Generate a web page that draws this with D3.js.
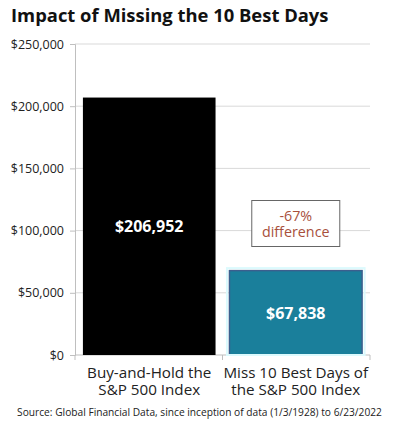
<!DOCTYPE html>
<html>
<head>
<meta charset="utf-8">
<script src="https://cdn.jsdelivr.net/npm/d3@7"></script>
<style>
  body { margin: 0; background: #fff; }
  svg { display: block; font-family: "Open Sans", sans-serif; }
</style>
</head>
<body>
<svg id="chart" width="399" height="424"></svg>
<script>
// data
const categories = ['Buy-and-Hold the S&P 500 Index', 'Miss 10 Best Days of the S&P 500 Index'];
const categoryLines = [['Buy-and-Hold the', 'S&P 500 Index'], ['Miss 10 Best Days of', 'the S&P 500 Index']];
const values = [206952, 67838];
const yTicks = [0, 50000, 100000, 150000, 200000, 250000];
const diffLabel = ['-67%', 'difference'];

const svg = d3.select('#chart');
const margins = { top: 44, right: 29, bottom: 69, left: 75 };
const width = 399, height = 424;

const x = d3.scaleBand()
    .domain(categories)
    .range([margins.left, width - margins.right])
    .paddingInner(0.095)
    .paddingOuter(0.054);
const y = d3.scaleLinear().domain([0, 250000]).range([height - margins.bottom, margins.top]);

const fmt = d3.format('$,.0f');

// title
svg.append('text')
    .attr('x', 11).attr('y', 22)
    .attr('font-size', 18.4).attr('font-weight', 700)
    .attr('fill', '#111')
    .text('Impact of Missing the 10 Best Days');

// gridlines
svg.append('g').selectAll('line')
    .data(yTicks.filter(d => d > 0))
    .join('line')
    .attr('x1', margins.left).attr('x2', width - margins.right)
    .attr('y1', d => y(d)).attr('y2', d => y(d))
    .attr('stroke', '#d9d9d9').attr('stroke-width', 1);

// y axis
const yAxis = svg.append('g')
    .attr('transform', 'translate(' + margins.left + ',0)')
    .call(d3.axisLeft(y).tickValues(yTicks).tickFormat(fmt).tickSize(5).tickPadding(6));
yAxis.select('.domain').attr('stroke', '#bfbfbf');
yAxis.selectAll('.tick line').attr('stroke', '#bfbfbf');
yAxis.selectAll('.tick text').attr('font-size', 12.5).attr('fill', '#222').attr('font-family', '"Open Sans", sans-serif');

// x axis with ticks at category boundaries
const bounds = [x.range()[0], (x(categories[0]) + x.bandwidth() + x(categories[1])) / 2, x.range()[1]];
const xg = svg.append('g').attr('transform', 'translate(0,' + y(0) + ')');
xg.append('line').attr('x1', bounds[0]).attr('x2', bounds[2]).attr('stroke', '#bfbfbf');
xg.selectAll('.bt').data(bounds).join('line')
    .attr('class', 'bt')
    .attr('x1', d => d).attr('x2', d => d).attr('y1', 0).attr('y2', 5)
    .attr('stroke', '#bfbfbf');

// bars
const colors = ['#000000', '#1a7f9b'];
svg.append('g').selectAll('rect')
    .data(values)
    .join('rect')
    .attr('x', (d, i) => x(categories[i]))
    .attr('y', d => y(d))
    .attr('width', x.bandwidth())
    .attr('height', d => y(0) - y(d))
    .attr('fill', (d, i) => colors[i])
    .attr('stroke', (d, i) => i === 1 ? '#3c5f8e' : 'none')
    .attr('stroke-width', 1.5);

// light halo around teal bar
svg.append('rect')
    .attr('x', x(categories[1]) - 2.5).attr('y', y(values[1]) - 2.5)
    .attr('width', x.bandwidth() + 5).attr('height', y(0) - y(values[1]) + 2.5)
    .attr('fill', 'none').attr('stroke', '#dcfafd').attr('stroke-width', 2);

// bar value labels
svg.append('g').selectAll('text')
    .data(values)
    .join('text')
    .attr('x', (d, i) => x(categories[i]) + x.bandwidth() / 2)
    .attr('y', d => (y(d) + y(0)) / 2 + 6)
    .attr('text-anchor', 'middle')
    .attr('font-size', 16).attr('font-weight', 700)
    .attr('fill', '#fff')
    .text(d => fmt(d));

// category labels, one text per line
categoryLines.forEach((lines, i) => {
    lines.forEach((l, j) => {
        svg.append('text')
            .attr('text-anchor', 'middle')
            .attr('font-size', 15.2).attr('fill', '#222')
            .attr('x', x(categories[i]) + x.bandwidth() / 2)
            .attr('y', 378 + j * 17)
            .text(l);
    });
});

// difference annotation
const cx = x(categories[1]) + x.bandwidth() / 2;
svg.append('rect')
    .attr('x', cx - 44).attr('y', 200.5)
    .attr('width', 88).attr('height', 46)
    .attr('fill', '#fff').attr('stroke', '#666').attr('stroke-width', 1);
diffLabel.forEach((l, j) => {
    svg.append('text')
        .attr('text-anchor', 'middle')
        .attr('font-size', 14.3).attr('fill', '#a8503c')
        .attr('x', cx).attr('y', 221 + j * 16)
        .text(l);
});

// source
svg.append('text')
    .attr('x', width / 2).attr('y', 416)
    .attr('text-anchor', 'middle')
    .attr('font-size', 10.2).attr('fill', '#222')
    .text('Source: Global Financial Data, since inception of data (1/3/1928) to 6/23/2022');
</script>
</body>
</html>
